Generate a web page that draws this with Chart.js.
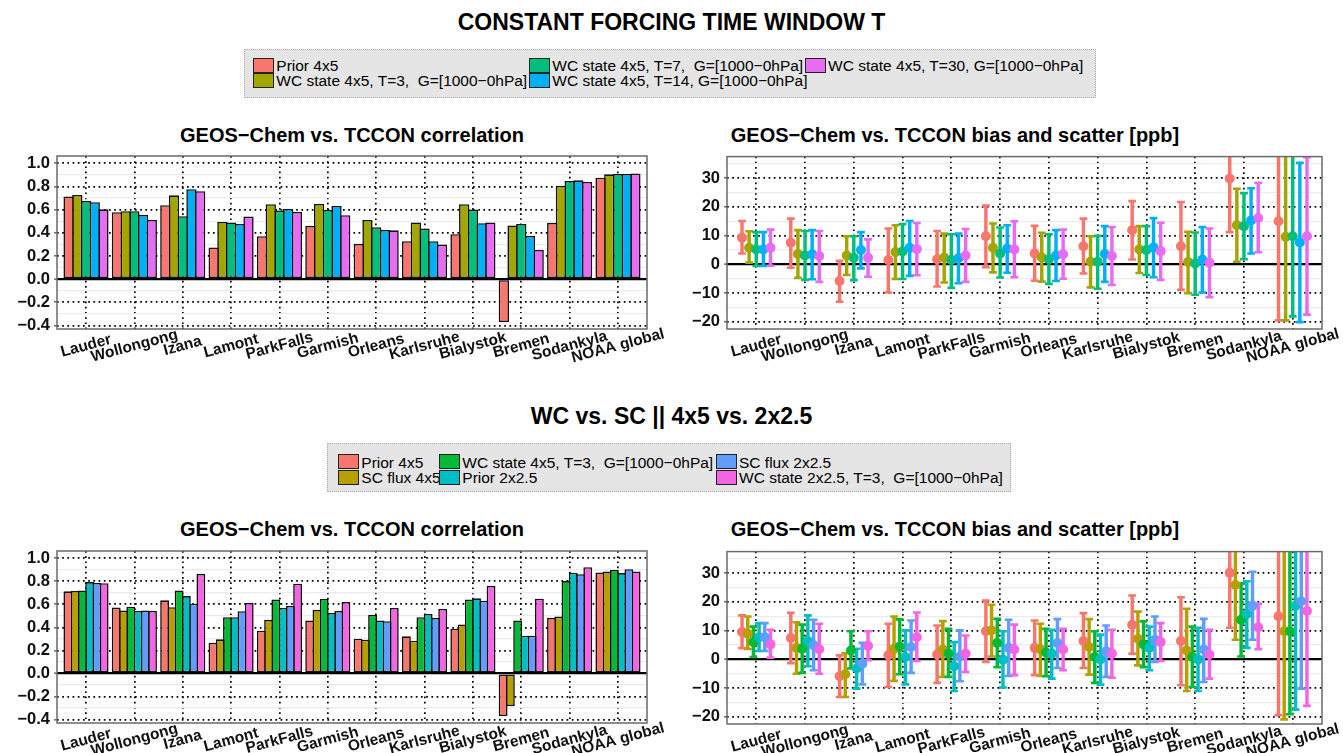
<!DOCTYPE html>
<html><head><meta charset="utf-8">
<script src="https://cdn.jsdelivr.net/npm/chart.js@4.4.1/dist/chart.umd.min.js"></script>
<style>
html,body{margin:0;padding:0;background:#fff;}
#root{position:relative;width:1343px;height:753px;overflow:hidden;font-family:"Liberation Sans",Arial,sans-serif;background:#fff;}
.title{position:absolute;font-weight:bold;white-space:pre;text-align:center;color:#000;}
.legend{position:absolute;background:#e5e5e5;border:1px dotted #a8a8a8;box-sizing:border-box;}
.key{position:absolute;width:21px;height:15px;box-sizing:border-box;border:1.5px solid #222;}
.ltext{position:absolute;font-size:15.5px;white-space:pre;color:#000;line-height:15px;}
canvas{position:absolute;}
</style></head>
<body><div id="root">
<div class="title" style="left:0;width:1343px;top:9px;font-size:23px;line-height:26px">CONSTANT FORCING TIME WINDOW T</div>
<div class="title" style="left:0;width:1343px;top:403px;font-size:23px;line-height:26px">WC vs. SC || 4x5 vs. 2x2.5</div>
<div class="title" style="left:52px;width:600px;top:123px;font-size:20px;line-height:24px">GEOS−Chem vs. TCCON correlation</div>
<div class="title" style="left:655px;width:600px;top:123px;font-size:20px;line-height:24px">GEOS−Chem vs. TCCON bias and scatter [ppb]</div>
<div class="title" style="left:52px;width:600px;top:517px;font-size:20px;line-height:24px">GEOS−Chem vs. TCCON correlation</div>
<div class="title" style="left:655px;width:600px;top:517px;font-size:20px;line-height:24px">GEOS−Chem vs. TCCON bias and scatter [ppb]</div>
<div class="legend" id="leg1" style="left:244px;top:49px;width:852px;height:49px"></div>
<div class="legend" id="leg2" style="left:327px;top:443px;width:684px;height:49px"></div>
</div>
<script>
// ---------------- DATA ----------------
const stations = ['Lauder','Wollongong','Izana','Lamont','ParkFalls','Garmish','Orleans','Karlsruhe','Bialystok','Bremen','Sodankyla','NOAA global'];
const corrTicks = [-0.4,-0.3,-0.2,-0.1,0.0,0.1,0.2,0.3,0.4,0.5,0.6,0.7,0.8,0.9,1.0];
const biasTicks = [-20,-15,-10,-5,0,5,10,15,20,25,30,35];

const topNames = ['Prior 4x5','WC state 4x5, T=3,  G=[1000−0hPa]','WC state 4x5, T=7,  G=[1000−0hPa]','WC state 4x5, T=14, G=[1000−0hPa]','WC state 4x5, T=30, G=[1000−0hPa]'];
const topColors = ['#F8766D','#A3A500','#00BF7D','#00B0F6','#E76BF3'];
const bottomNames = ['Prior 4x5','SC flux 4x5','WC state 4x5, T=3,  G=[1000−0hPa]','Prior 2x2.5','SC flux 2x2.5','WC state 2x2.5, T=3,  G=[1000−0hPa]'];
const bottomColors = ['#F8766D','#B79F00','#00BA38','#00BFC4','#619CFF','#F564E3'];

// top correlation
const corrTopPrior = [0.713,0.578,0.638,0.273,0.371,0.460,0.305,0.328,0.388,-0.371,0.486,0.876];
const corrTopWC3   = [0.727,0.586,0.724,0.494,0.647,0.649,0.511,0.489,0.647,0.463,0.807,0.905];
const corrTopWC7   = [0.675,0.586,0.543,0.489,0.592,0.598,0.448,0.437,0.601,0.477,0.848,0.908];
const corrTopWC14  = [0.664,0.555,0.776,0.477,0.606,0.632,0.425,0.328,0.483,0.374,0.853,0.908];
const corrTopWC30  = [0.603,0.511,0.759,0.540,0.580,0.552,0.422,0.299,0.489,0.253,0.839,0.911];

// bottom correlation
const corrBotPrior4x5  = [0.713,0.572,0.635,0.267,0.371,0.460,0.302,0.322,0.388,-0.371,0.483,0.876];
const corrBotSC4x5     = [0.716,0.546,0.575,0.296,0.466,0.552,0.293,0.284,0.425,-0.284,0.494,0.885];
const corrBotWC4x5     = [0.721,0.580,0.721,0.489,0.641,0.647,0.509,0.489,0.641,0.460,0.802,0.899];
const corrBotPrior2x25 = [0.793,0.543,0.672,0.489,0.569,0.526,0.460,0.517,0.652,0.328,0.874,0.871];
const corrBotSC2x25    = [0.787,0.546,0.606,0.540,0.586,0.543,0.454,0.483,0.632,0.328,0.862,0.905];
const corrBotWC2x25    = [0.784,0.543,0.865,0.612,0.779,0.621,0.569,0.560,0.761,0.649,0.922,0.885];

// top bias (mean, low, high)
const biasTopPrior   = [9.3,7.5,-5.8,1.5,1.8,9.8,3.8,6.3,11.9,6.3,29.9,15.0];
const biasTopPriorLo = [3.8,-1.2,-13.0,-9.8,-7.7,-1.0,-5.7,-3.2,1.7,-8.9,11.2,-19.5];
const biasTopPriorHi = [15.1,15.9,1.2,12.5,11.6,20.5,13.4,15.9,22.0,21.7,48.6,49.5];
const biasTopWC3     = [5.8,3.6,3.1,4.3,2.4,5.8,2.4,0.9,5.2,0.8,13.6,9.6];
const biasTopWC3Lo   = [0.6,-4.7,-3.7,-5.1,-6.3,-2.8,-6.0,-8.0,-3.0,-10.0,0.9,-19.5];
const biasTopWC3Hi   = [11.5,11.9,9.8,13.6,10.7,14.2,11.0,9.8,13.3,11.3,26.3,38.7];
const biasTopWC7     = [5.2,3.1,2.3,4.5,1.5,3.8,1.8,0.9,5.0,0.3,13.3,9.8];
const biasTopWC7Lo   = [-0.6,-5.4,-5.5,-5.1,-8.2,-4.6,-6.8,-8.5,-3.7,-10.6,1.8,-18.1];
const biasTopWC7Hi   = [11.2,11.6,9.8,14.0,10.5,12.8,10.5,9.9,13.3,11.1,24.8,37.9];
const biasTopWC14    = [5.2,3.5,5.0,5.8,2.1,5.5,3.1,3.6,5.9,1.7,15.3,7.6];
const biasTopWC14Lo  = [-0.6,-5.2,-1.4,-4.0,-6.6,-2.9,-5.8,-6.1,-4.5,-9.8,3.8,-20.1];
const biasTopWC14Hi  = [11.2,11.9,11.2,15.1,10.7,13.6,11.9,13.3,16.1,13.0,26.5,35.3];
const biasTopWC30    = [5.8,2.9,2.3,5.3,3.1,5.2,3.5,2.9,4.6,0.6,16.1,9.8];
const biasTopWC30Lo  = [-0.5,-6.1,-4.3,-3.8,-6.1,-4.5,-5.0,-7.2,-5.4,-11.4,4.2,-17.5];
const biasTopWC30Hi  = [12.1,11.6,8.7,14.4,12.3,15.0,12.1,13.0,14.5,12.5,28.4,37.3];

// bottom bias (mean, low, high)
const biasBotPrior4x5    = [9.5,7.4,-5.9,1.4,1.7,9.8,4.0,6.4,12.0,6.4,30.1,15.0];
const biasBotPrior4x5Lo  = [3.9,-1.3,-13.1,-9.6,-8.2,-0.9,-5.5,-3.0,2.0,-9.0,11.0,-19.4];
const biasBotPrior4x5Hi  = [15.3,16.2,1.4,12.4,11.8,20.5,13.5,16.1,22.2,21.6,49.2,49.4];
const biasBotSC4x5       = [8.9,4.0,-5.2,3.7,3.4,10.1,3.5,4.3,7.2,3.1,25.9,9.8];
const biasBotSC4x5Lo     = [3.6,-5.0,-13.1,-7.5,-6.1,1.0,-5.8,-5.3,-2.1,-11.0,6.8,-20.9];
const biasBotSC4x5Hi     = [14.9,12.9,2.2,14.9,13.3,19.0,12.4,14.0,16.6,17.6,45.0,40.5];
const biasBotWC4x5       = [6.0,3.7,3.1,4.5,2.0,5.7,2.4,0.8,5.2,0.8,13.8,9.8];
const biasBotWC4x5Lo     = [0.8,-4.7,-3.2,-5.2,-6.1,-2.7,-5.9,-8.2,-2.7,-9.6,1.0,-19.1];
const biasBotWC4x5Hi     = [11.4,12.1,9.8,13.9,10.6,14.1,10.6,9.8,13.2,11.4,26.5,38.7];
const biasBotPrior2x25   = [7.7,6.4,-3.2,0.8,-2.4,-0.1,2.0,0.0,4.0,0.0,15.8,18.7];
const biasBotPrior2x25Lo = [2.9,-2.4,-10.2,-8.7,-11.0,-9.8,-6.7,-8.8,-3.8,-11.0,4.0,-17.5];
const biasBotPrior2x25Hi = [12.6,15.3,3.7,10.1,6.0,9.8,10.3,8.6,11.4,11.0,27.2,54.9];
const biasBotSC2x25      = [7.7,4.9,-1.5,4.3,1.0,4.0,5.7,2.8,6.8,3.4,18.7,20.2];
const biasBotSC2x25Lo    = [2.9,-3.8,-8.7,-4.7,-7.6,-5.8,-3.0,-6.1,-0.9,-7.9,6.8,-10.2];
const biasBotSC2x25Hi    = [12.6,13.8,5.8,13.5,10.1,13.8,14.0,11.8,14.9,14.1,30.5,50.6];
const biasBotWC2x25      = [5.2,3.5,4.7,7.7,2.0,3.4,3.4,2.0,6.0,1.7,11.2,16.8];
const biasBotWC2x25Lo    = [0.6,-5.0,-0.3,-0.6,-4.4,-5.5,-3.8,-6.4,-0.6,-6.7,3.5,-16.2];
const biasBotWC2x25Hi    = [10.3,12.4,9.8,16.3,8.3,12.1,10.6,10.3,12.6,10.3,19.3,49.8];

// ---------------- LEGENDS ----------------
function buildLegend(id, names, colors, cols, rows, boxLeft, boxTop) {
  const el = document.getElementById(id);
  names.forEach((n, k) => {
    const x = cols[Math.floor(k / 2)] - boxLeft - 1, y = rows[k % 2] - boxTop - 1;
    const key = document.createElement('div');
    key.className = 'key'; key.style.left = x + 'px'; key.style.top = y + 'px'; key.style.background = colors[k];
    el.appendChild(key);
    const t = document.createElement('div');
    t.className = 'ltext'; t.style.left = (x + 23) + 'px'; t.style.top = (y + 0.5) + 'px'; t.textContent = n;
    el.appendChild(t);
  });
}
buildLegend('leg1', topNames, topColors, [253.3, 529.3, 805], [57.5, 72.5], 244, 49);
buildLegend('leg2', bottomNames, bottomColors, [338.3, 439.3, 716], [454, 469.5], 327, 443);

// ---------------- CHARTS ----------------
Chart.defaults.font.family = 'Liberation Sans';
const XMIN = -0.6, XMAX = 11.6;
const minus = s => s.replace('-', '\u2212');

const panelPlugin = {
  id: 'panel',
  afterDraw(chart) {
    const {ctx, chartArea: a} = chart;
    ctx.save();
    ctx.strokeStyle = '#6a6a6a'; ctx.lineWidth = 1.5;
    ctx.strokeRect(a.left, a.top, a.right - a.left, a.bottom - a.top);
    const xs = chart.scales.x;
    ctx.font = 'bold 15.5px "Liberation Sans"'; ctx.fillStyle = '#111';
    ctx.textAlign = 'center'; ctx.textBaseline = 'middle';
    stations.forEach((name, i) => {
      const px = xs.getPixelForValue(i);
      ctx.save(); ctx.translate(px, a.bottom + 17); ctx.rotate(-15 * Math.PI / 180);
      ctx.fillText(name, 0, 0); ctx.restore();
    });
    ctx.restore();
  }
};

function makeCanvas(lay) {
  const c = document.createElement('canvas');
  c.width = lay.w; c.height = lay.h;
  c.style.left = lay.left + 'px'; c.style.top = lay.top + 'px';
  c.style.width = lay.w + 'px'; c.style.height = lay.h + 'px';
  document.getElementById('root').appendChild(c);
  return c;
}

function scalesFor(kind, lay) {
  const isCorr = kind === 'corr';
  const ticks = isCorr ? corrTicks : biasTicks;
  const isMajor = v => isCorr ? Math.abs(Math.round(v * 10)) % 2 === 0 : Math.abs(Math.round(v)) % 10 === 0;
  const isZero = v => Math.abs(v) < 1e-9;
  return {
    x: {
      type: 'linear', min: XMIN, max: XMAX, offset: false,
      afterBuildTicks: s => { s.ticks = stations.map((_, i) => ({value: i})); },
      afterFit: s => { s.height = lay.xh; s.paddingLeft = 0; s.paddingRight = 0; },
      ticks: {display: false, autoSkip: false},
      grid: {offset: false, drawTicks: false, color: '#000', lineWidth: 1.7},
      border: {display: false, dash: [1.7, 3.5]}
    },
    y: {
      type: 'linear', min: isCorr ? -0.43 : -22.5, max: isCorr ? 1.063 : 37.5,
      afterBuildTicks: s => { s.ticks = ticks.map(v => ({value: v})); },
      afterFit: s => { s.width = lay.yw; s.paddingTop = 0; s.paddingBottom = 0; },
      ticks: {
        autoSkip: false, padding: 4, color: '#111',
        font: {family: 'Liberation Sans', weight: 'bold', size: 16.5},
        callback: v => isMajor(v) ? minus(isCorr ? Number(v).toFixed(1) : String(Math.round(v))) : ''
      },
      grid: {
        drawTicks: true, tickLength: 3, tickWidth: 1.2,
        tickColor: c => (c.tick && isMajor(c.tick.value)) ? '#444' : 'rgba(0,0,0,0)',
        color: c => !c.tick ? '#000' : (isMajor(c.tick.value) ? '#000' : '#ebebeb'),
        lineWidth: c => !c.tick ? 1 : (isZero(c.tick.value) ? 2.2 : (isMajor(c.tick.value) ? 1.7 : 1.3))
      },
      border: {display: false, dash: c => (c.tick && isMajor(c.tick.value) && !isZero(c.tick.value)) ? [1.7, 3.5] : []}
    }
  };
}

function corrChart(lay, names, colors, series) {
  const n = series.length;
  const areaW = lay.w - lay.yw - lay.pr;
  const chunk = (areaW / (XMAX - XMIN)) * 0.9 / n;
  const bw = 1.6;
  new Chart(makeCanvas(lay), {
    type: 'bar',
    data: {
      datasets: series.map((vals, k) => ({
        type: 'bar', label: names[k],
        data: stations.map((_, i) => ({x: i, y: vals[i]})),
        backgroundColor: colors[k], borderColor: '#111', borderWidth: bw, borderSkipped: false,
        categoryPercentage: 0.9, barPercentage: 1 + bw / chunk, clip: 0
      }))
    },
    options: {
      responsive: false, devicePixelRatio: 1, animation: false, events: [],
      layout: {padding: {left: 0, top: lay.pt, right: lay.pr, bottom: 0}},
      plugins: {legend: {display: false}, tooltip: {enabled: false}},
      scales: scalesFor('corr', lay)
    },
    plugins: [panelPlugin]
  });
}

function biasChart(lay, names, colors, means, los, his, dodge) {
  const n = means.length;
  const step = dodge / n;
  const datasets = [];
  means.forEach((m, k) => {
    const off = (k - (n - 1) / 2) * step;
    datasets.push({
      type: 'bar', label: names[k] + ' range',
      data: stations.map((_, i) => ({x: i + off, y: [los[k][i], his[k][i]]})),
      backgroundColor: colors[k], borderWidth: 0, barThickness: 2.8, barPercentage: 1,
      grouped: false, clip: 0, order: 20 + (n - k)
    });
    datasets.push({
      type: 'scatter', label: names[k] + ' caps',
      data: stations.map((_, i) => ({x: i + off, y: los[k][i]})).concat(stations.map((_, i) => ({x: i + off, y: his[k][i]}))),
      pointStyle: 'line', pointRadius: 3.9, pointBorderWidth: 2.6, pointBorderColor: colors[k],
      pointBackgroundColor: colors[k], borderColor: colors[k], showLine: false, clip: 0, order: 20 + (n - k)
    });
    datasets.push({
      type: 'scatter', label: names[k],
      data: stations.map((_, i) => ({x: i + off, y: m[i]})),
      pointStyle: 'circle', pointRadius: 5, pointBorderWidth: 0, pointBackgroundColor: colors[k],
      pointBorderColor: colors[k], backgroundColor: colors[k], showLine: false, clip: 0, order: (n - k)
    });
  });
  new Chart(makeCanvas(lay), {
    type: 'scatter',
    data: {datasets},
    options: {
      responsive: false, devicePixelRatio: 1, animation: false, events: [],
      layout: {padding: {left: 0, top: lay.pt, right: lay.pr, bottom: 0}},
      plugins: {legend: {display: false}, tooltip: {enabled: false}},
      scales: scalesFor('bias', lay)
    },
    plugins: [panelPlugin]
  });
}

const layTL = {left: 0, top: 150, w: 670, h: 225, yw: 57, pt: 6, pr: 23, xh: 46};
const layTR = {left: 670, top: 150, w: 673, h: 225, yw: 57, pt: 6, pr: 21, xh: 46};
const layBL = {left: 0, top: 545, w: 670, h: 208, yw: 57, pt: 6, pr: 23, xh: 30};
const layBR = {left: 670, top: 545, w: 673, h: 208, yw: 57, pt: 6, pr: 21, xh: 29};

corrChart(layTL, topNames, topColors, [corrTopPrior, corrTopWC3, corrTopWC7, corrTopWC14, corrTopWC30]);
biasChart(layTR, topNames, topColors,
  [biasTopPrior, biasTopWC3, biasTopWC7, biasTopWC14, biasTopWC30],
  [biasTopPriorLo, biasTopWC3Lo, biasTopWC7Lo, biasTopWC14Lo, biasTopWC30Lo],
  [biasTopPriorHi, biasTopWC3Hi, biasTopWC7Hi, biasTopWC14Hi, biasTopWC30Hi], 0.73);
corrChart(layBL, bottomNames, bottomColors, [corrBotPrior4x5, corrBotSC4x5, corrBotWC4x5, corrBotPrior2x25, corrBotSC2x25, corrBotWC2x25]);
biasChart(layBR, bottomNames, bottomColors,
  [biasBotPrior4x5, biasBotSC4x5, biasBotWC4x5, biasBotPrior2x25, biasBotSC2x25, biasBotWC2x25],
  [biasBotPrior4x5Lo, biasBotSC4x5Lo, biasBotWC4x5Lo, biasBotPrior2x25Lo, biasBotSC2x25Lo, biasBotWC2x25Lo],
  [biasBotPrior4x5Hi, biasBotSC4x5Hi, biasBotWC4x5Hi, biasBotPrior2x25Hi, biasBotSC2x25Hi, biasBotWC2x25Hi], 0.70);
</script>
</body></html>
